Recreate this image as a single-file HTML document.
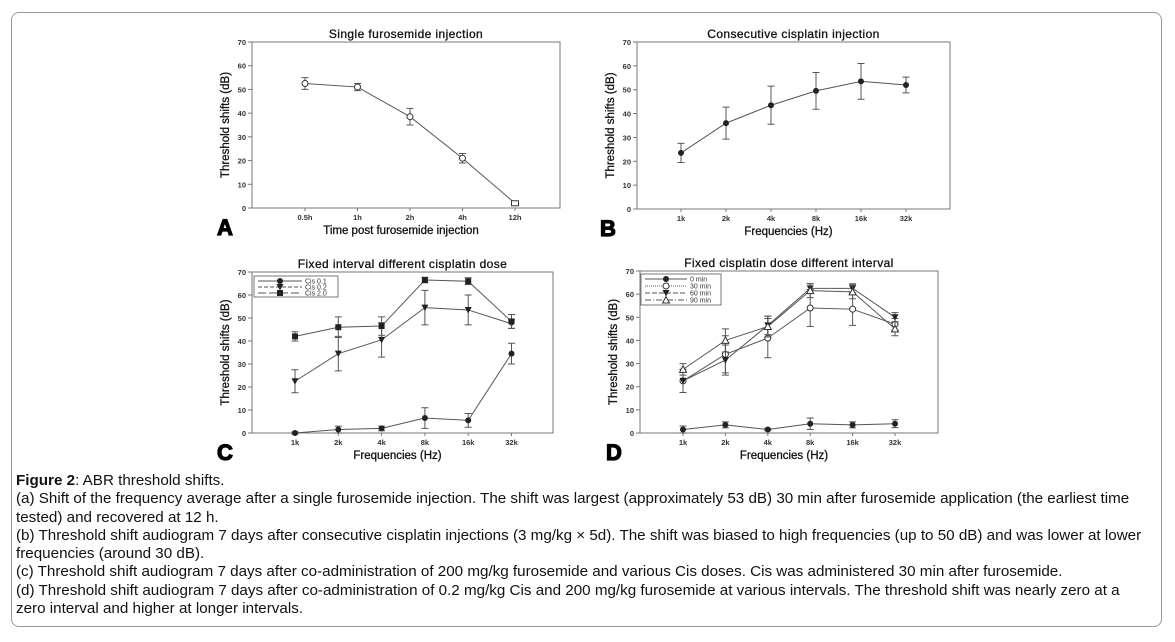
<!DOCTYPE html>
<html><head><meta charset="utf-8">
<style>
body{margin:0;background:#fff;width:1175px;height:642px;overflow:hidden;font-family:"Liberation Sans",Arial,sans-serif}
#frame{position:absolute;left:11px;top:12px;width:1151px;height:615px;border:1px solid #999;border-radius:8px;box-sizing:border-box}
#caption{position:absolute;left:16px;top:472px;font-size:15.2px;line-height:18.3px;color:#111;white-space:nowrap}
svg{position:absolute;left:0;top:0}
svg text{font-family:"Liberation Sans",Arial,sans-serif}
</style></head><body>
<div id="frame"></div>
<svg id="chart" width="1175" height="642"></svg>
<div id="caption">
<div><b>Figure 2</b>: ABR threshold shifts.</div>
<div>(a) Shift of the frequency average after a single furosemide injection. The shift was largest (approximately 53 dB) 30 min after furosemide application (the earliest time</div>
<div>tested) and recovered at 12 h.</div>
<div>(b) Threshold shift audiogram 7 days after consecutive cisplatin injections (3 mg/kg × 5d). The shift was biased to high frequencies (up to 50 dB) and was lower at lower</div>
<div>frequencies (around 30 dB).</div>
<div>(c) Threshold shift audiogram 7 days after co-administration of 200 mg/kg furosemide and various Cis doses. Cis was administered 30 min after furosemide.</div>
<div>(d) Threshold shift audiogram 7 days after co-administration of 0.2 mg/kg Cis and 200 mg/kg furosemide at various intervals. The threshold shift was nearly zero at a</div>
<div>zero interval and higher at longer intervals.</div>
</div>
<script>
const yTicks=[0,10,20,30,40,50,60,70];
const timeCats=["0.5h","1h","2h","4h","12h"];
const freqCats=["1k","2k","4k","8k","16k","32k"];
const aVals=[52.5,51,38.5,21,2];
const aErr=[2.5,1.5,3.5,2,0.5];
const bVals=[23.5,36,43.5,49.5,53.5,52];
const bErr=[4,6.7,8,7.7,7.5,3.3];
const cCis01=[0,1.5,2,6.5,5.5,34.5];
const cCis01Err=[0.5,1.5,1,4.5,3,4.5];
const cCis02=[22.5,34.5,40.5,54.5,53.5,47.5];
const cCis02Err=[5,7.5,7.5,7.5,6.5,2];
const cCis20=[42,46,46.5,66.5,66,48.5];
const cCis20Err=[2,4.5,4,1.2,1.5,3];
const d0=[1.5,3.5,1.5,4,3.5,4];
const d0Err=[1.5,1.3,0.5,2.5,1.3,1.7];
const d30=[22.5,34,41,54,53.5,47];
const d30Err=[5,8,8.5,8,7,2.5];
const d60=[22.5,31.5,46.5,62.5,62.5,50];
const d60Err=[5,6.5,4,2,2,2];
const d90=[27.5,40,46,61.5,61,45];
const d90Err=[2.5,5,4.5,3,3,3];

const NS="http://www.w3.org/2000/svg";
const svg=document.getElementById('chart');
function mk(tag,attrs,parent){const e=document.createElementNS(NS,tag);for(const k in attrs)e.setAttribute(k,attrs[k]);(parent||svg).appendChild(e);return e;}
function txt(s,attrs,parent){const e=mk('text',attrs,parent);e.textContent=s;return e;}

function marker(g,type,x,y){
  let e;
  if(type==='circle'){e=mk('circle',{cx:x,cy:y,r:3,fill:'#222'},g);}
  else if(type==='ocircle'){e=mk('circle',{cx:x,cy:y,r:3,fill:'#fff',stroke:'#333','stroke-width':1},g);}
  else if(type==='osquare'){e=mk('rect',{x:x-3.5,y:y-2.5,width:7,height:5,fill:'#fff',stroke:'#333','stroke-width':1},g);}
  else if(type==='square'){e=mk('rect',{x:x-3,y:y-3,width:6,height:6,fill:'#222'},g);}
  else if(type==='tri'){e=mk('polygon',{points:`${x-3.5},${y-3} ${x+3.5},${y-3} ${x},${y+3.5}`,fill:'#222'},g);}
  else {e=mk('polygon',{points:`${x-3.5},${y+3} ${x+3.5},${y+3} ${x},${y-3.5}`,fill:'#fff',stroke:'#333'},g);}
  
  
}

function panel(p){
  const g=mk('g',{});
  
  
  const yS=v=>p.y0-(v/70)*(p.y0-p.y70);
  const xS=i=>p.x1+i*p.step;
  const ax=mk('path',{d:`M${p.left},${p.y70}V${p.y0}H${p.right}V${p.y70}H${p.left}`,fill:'none',stroke:'#777','stroke-width':1},g);
  
  
  yTicks.forEach(t=>{
    mk('line',{x1:p.left-4,x2:p.left,y1:yS(t),y2:yS(t),stroke:'#777'},g);
    const l=txt(String(t),{x:p.left-6,y:yS(t)+3,'font-size':7.5,'text-anchor':'end',fill:'#333','font-weight':'bold'},g);
    
    
  });
  p.cats.forEach((c,i)=>{
    mk('line',{x1:xS(i),x2:xS(i),y1:p.y0,y2:p.y0+3,stroke:'#777'},g);
    const l=txt(c,{x:xS(i),y:p.y0+12,'font-size':7.5,'text-anchor':'middle',fill:'#333','font-weight':'bold'},g);
    
    
  });
  const t=txt(p.title,{x:(p.left+p.right)/2,y:p.y70-4,'font-size':12,'text-anchor':'middle',fill:'#111','letter-spacing':0.4,stroke:'#111','stroke-width':0.3},g);
  
  
  const xt=txt(p.xtitle,{x:(p.left+p.right)/2-5,y:p.y0+26,'font-size':11.5,'text-anchor':'middle',fill:'#111',stroke:'#111','stroke-width':0.3},g);
  
  
  const cy=(p.y0+p.y70)/2;
  const yt=txt('Threshold shifts (dB)',{x:p.left-23,y:cy,'font-size':11.5,'text-anchor':'middle',fill:'#111',stroke:'#111','stroke-width':0.3,transform:`rotate(-90 ${p.left-23} ${cy})`},g);
  
  
  const pl=txt(p.letter,{x:p.letterX,y:p.y0+27,'font-size':22,'font-weight':'bold',fill:'#000',stroke:'#000','stroke-width':1.2},g);
  
  
  p.series.forEach(s=>{
    const sg=mk('g',{},g);
    
    
    const pts=s.vals.map((v,i)=>xS(i)+','+yS(v)).join(' ');
    mk('polyline',{points:pts,fill:'none',stroke:'#555','stroke-width':1},sg);
    s.vals.forEach((v,i)=>{
      const x=xS(i),e=s.err[i];
      mk('path',{d:`M${x},${yS(v+e)}V${yS(v-e)}M${x-3.5},${yS(v+e)}H${x+3.5}M${x-3.5},${yS(v-e)}H${x+3.5}`,stroke:'#555','stroke-width':1,fill:'none'},sg);
    });
    s.vals.forEach((v,i)=>marker(sg,(s.lastM&&i===s.vals.length-1)?s.lastM:s.m,xS(i),yS(v)));
  });
  if(p.legend){
    const L=p.legend;
    const lg=mk('g',{},g);
    
    
    mk('rect',{x:L.x,y:L.y,width:L.w,height:L.h,fill:'#fff',stroke:'#777'},lg);
    p.series.forEach((s,i)=>{
      const yy=L.y+5+i*L.dy;
      mk('line',{x1:L.x+4,x2:L.x+L.lw,y1:yy,y2:yy,stroke:'#555','stroke-dasharray':s.dash||''},lg);
      marker(lg,s.m,L.x+4+(L.lw-4)/2,yy);
      const lt=txt(s.label,{x:L.x+L.lw+3,y:yy+2.5,'font-size':7,fill:'#333'},lg);
      
      
    });
  }
}

panel({name:'panel-a',left:252,right:560,y70:42,y0:208,x1:305,step:52.5,cats:timeCats,title:'Single furosemide injection',xtitle:'Time post furosemide injection',letter:'A',letterX:217,
  series:[{key:'furosemide',vals:aVals,err:aErr,m:'ocircle',lastM:'osquare'}]});
panel({name:'panel-b',left:637,right:950,y70:42,y0:209,x1:681,step:45,cats:freqCats,title:'Consecutive cisplatin injection',xtitle:'Frequencies (Hz)',letter:'B',letterX:600,
  series:[{key:'cisplatin',vals:bVals,err:bErr,m:'circle'}]});
panel({name:'panel-c',left:252,right:553,y70:272,y0:433,x1:295,step:43.3,cats:freqCats,title:'Fixed interval different cisplatin dose',xtitle:'Frequencies (Hz)',letter:'C',letterX:217,
  legend:{x:254,y:276,w:84,h:21,dy:6,lw:48},
  series:[{key:'cis-0-1',label:'Cis 0.1',vals:cCis01,err:cCis01Err,m:'circle'},
          {key:'cis-0-2',label:'Cis 0.2',vals:cCis02,err:cCis02Err,m:'tri',dash:'4 2'},
          {key:'cis-2-0',label:'Cis 2.0',vals:cCis20,err:cCis20Err,m:'square',dash:'8 3'}]});
panel({name:'panel-d',left:640,right:938,y70:271,y0:433,x1:683,step:42.4,cats:freqCats,title:'Fixed cisplatin dose different interval',xtitle:'Frequencies (Hz)',letter:'D',letterX:606,
  legend:{x:641,y:274,w:80,h:31,dy:7,lw:46},
  series:[{key:'0-min',label:'0 min',vals:d0,err:d0Err,m:'circle'},
          {key:'30-min',label:'30 min',vals:d30,err:d30Err,m:'ocircle',dash:'1 1'},
          {key:'60-min',label:'60 min',vals:d60,err:d60Err,m:'tri',dash:'5 2'},
          {key:'90-min',label:'90 min',vals:d90,err:d90Err,m:'otri',dash:'6 2 1 2'}]});
</script>
</body></html>
